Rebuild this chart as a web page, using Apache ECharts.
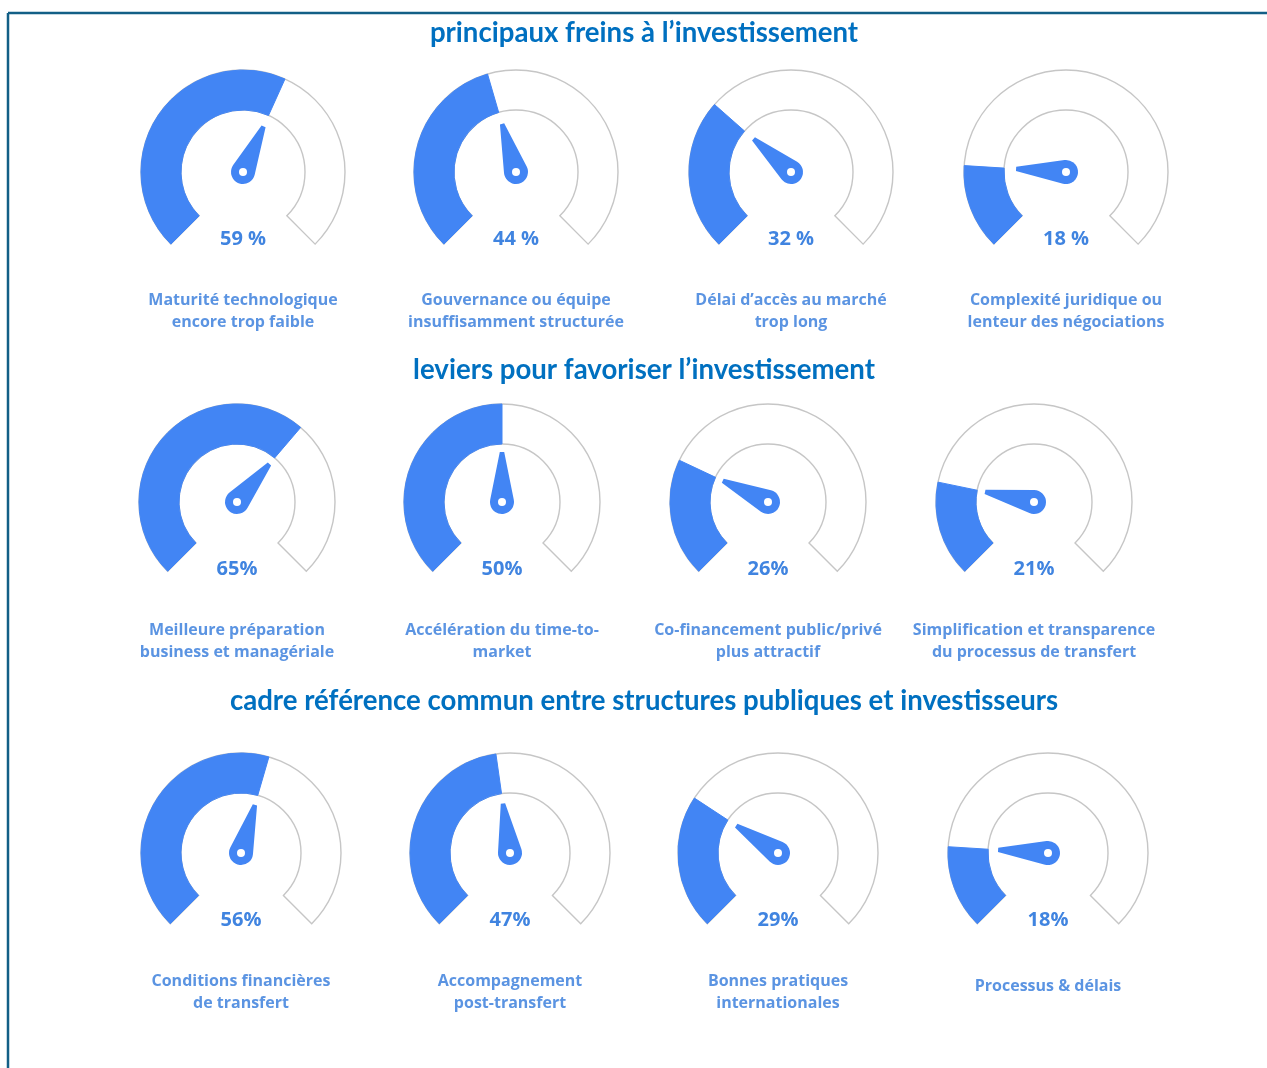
<!DOCTYPE html>
<html>
<head>
<meta charset="utf-8">
<script src="https://cdn.jsdelivr.net/npm/echarts@6/dist/echarts.min.js"></script>
<style>
  html, body { margin: 0; padding: 0; background: #ffffff; }
  #chart { width: 1267px; height: 1068px; }
</style>
</head>
<body>
<div id="chart"></div>
<script>
// Section headings
const sectionTitles = [
  'principaux freins à l’investissement',
  'leviers pour favoriser l’investissement',
  'cadre référence commun entre structures publiques et investisseurs'
];

// Section 1 : freins
const freinsLabels = [
  'Maturité technologique\nencore trop faible',
  'Gouvernance ou équipe\ninsuffisamment structurée',
  'Délai d’accès au marché\ntrop long',
  'Complexité juridique ou\nlenteur des négociations'
];
const freinsValues = [59, 44, 32, 18];

// Section 2 : leviers
const leviersLabels = [
  'Meilleure préparation\nbusiness et managériale',
  'Accélération du time-to-\nmarket',
  'Co-financement public/privé\nplus attractif',
  'Simplification et transparence\ndu processus de transfert'
];
const leviersValues = [65, 50, 26, 21];

// Section 3 : cadre commun
const cadreLabels = [
  'Conditions financières\nde transfert',
  'Accompagnement\npost-transfert',
  'Bonnes pratiques\ninternationales',
  'Processus & délais'
];
const cadreValues = [56, 47, 29, 18];

const BLUE = '#4285f4';
const OUTLINE = '#c6c6c6';
// tapered needle with a round hub at its foot
const NEEDLE = 'path://M9.8 0 L14.2 0 L23.8 47.5 A12 12 0 1 1 0.2 47.5 Z';

// Layout of the three rows of dials
const rows = [
  { labels: freinsLabels,  values: freinsValues,  unit: ' %', cy: 172, r: 102, xs: [243, 516, 791, 1066], titleY: 33 },
  { labels: leviersLabels, values: leviersValues, unit: '%',  cy: 502, r: 98,  xs: [237, 502, 768, 1034], titleY: 370 },
  { labels: cadreLabels,   values: cadreValues,   unit: '%',  cy: 853, r: 100, xs: [241, 510, 778, 1048], titleY: 701 }
];

const series = [];
rows.forEach(function (row) {
  row.xs.forEach(function (cx, i) {
    const common = {
      type: 'gauge',
      center: [cx, row.cy],
      radius: row.r,
      startAngle: 225,
      endAngle: -45,
      min: 0,
      max: 100,
      splitLine: { show: false },
      axisTick: { show: false },
      axisLabel: { show: false },
      animation: false,
      silent: true
    };
    // empty track with a thin outline
    series.push(Object.assign({}, common, {
      axisLine: { show: false },
      progress: {
        show: true, width: 40,
        itemStyle: { color: '#ffffff', borderColor: OUTLINE, borderWidth: 1.4 }
      },
      pointer: { show: false },
      anchor: { show: false },
      title: { show: false },
      detail: { show: false },
      data: [{ value: 100 }]
    }));
    // filled share, needle and labels
    const label = row.labels[i];
    const oneLine = label.indexOf('\n') < 0;
    series.push(Object.assign({}, common, {
      axisLine: { show: false },
      progress: {
        show: true, width: 40,
        itemStyle: { color: BLUE, borderColor: BLUE, borderWidth: 1 }
      },
      pointer: {
        show: true, icon: NEEDLE, width: 24, length: 62,
        offsetCenter: [0, 12], keepAspect: false,
        itemStyle: { color: BLUE }
      },
      anchor: {
        show: true, showAbove: true, size: 8, icon: 'circle',
        itemStyle: { color: '#ffffff' }
      },
      title: {
        show: true,
        offsetCenter: [0, oneLine ? 133 : 139],
        color: '#5b94e2',
        fontFamily: 'Open Sans',
        fontWeight: 'bold',
        fontSize: 16,
        lineHeight: 22
      },
      detail: {
        show: true,
        offsetCenter: [0, 67],
        color: '#4084e0',
        fontFamily: 'Open Sans',
        fontWeight: 'bold',
        fontSize: 20,
        formatter: function (v) { return v + row.unit; }
      },
      data: [{ value: row.values[i], name: label }]
    }));
  });
});

const graphics = [
  // frame: top and left rules
  { type: 'line', shape: { x1: 8, y1: 13, x2: 1267, y2: 13 }, style: { stroke: '#135f86', lineWidth: 2.5 } },
  { type: 'line', shape: { x1: 8, y1: 13, x2: 8, y2: 1068 }, style: { stroke: '#135f86', lineWidth: 2.5 } }
];
rows.forEach(function (row, k) {
  graphics.push({
    type: 'text',
    x: 644, y: row.titleY,
    style: {
      text: sectionTitles[k],
      fill: '#0070c0',
      font: 'bold 27.6px Lato',
      textAlign: 'center',
      textVerticalAlign: 'middle'
    }
  });
});

const chart = echarts.init(document.getElementById('chart'), null, { renderer: 'canvas' });
chart.setOption({
  backgroundColor: '#ffffff',
  graphic: graphics,
  series: series
});
</script>
</body>
</html>
